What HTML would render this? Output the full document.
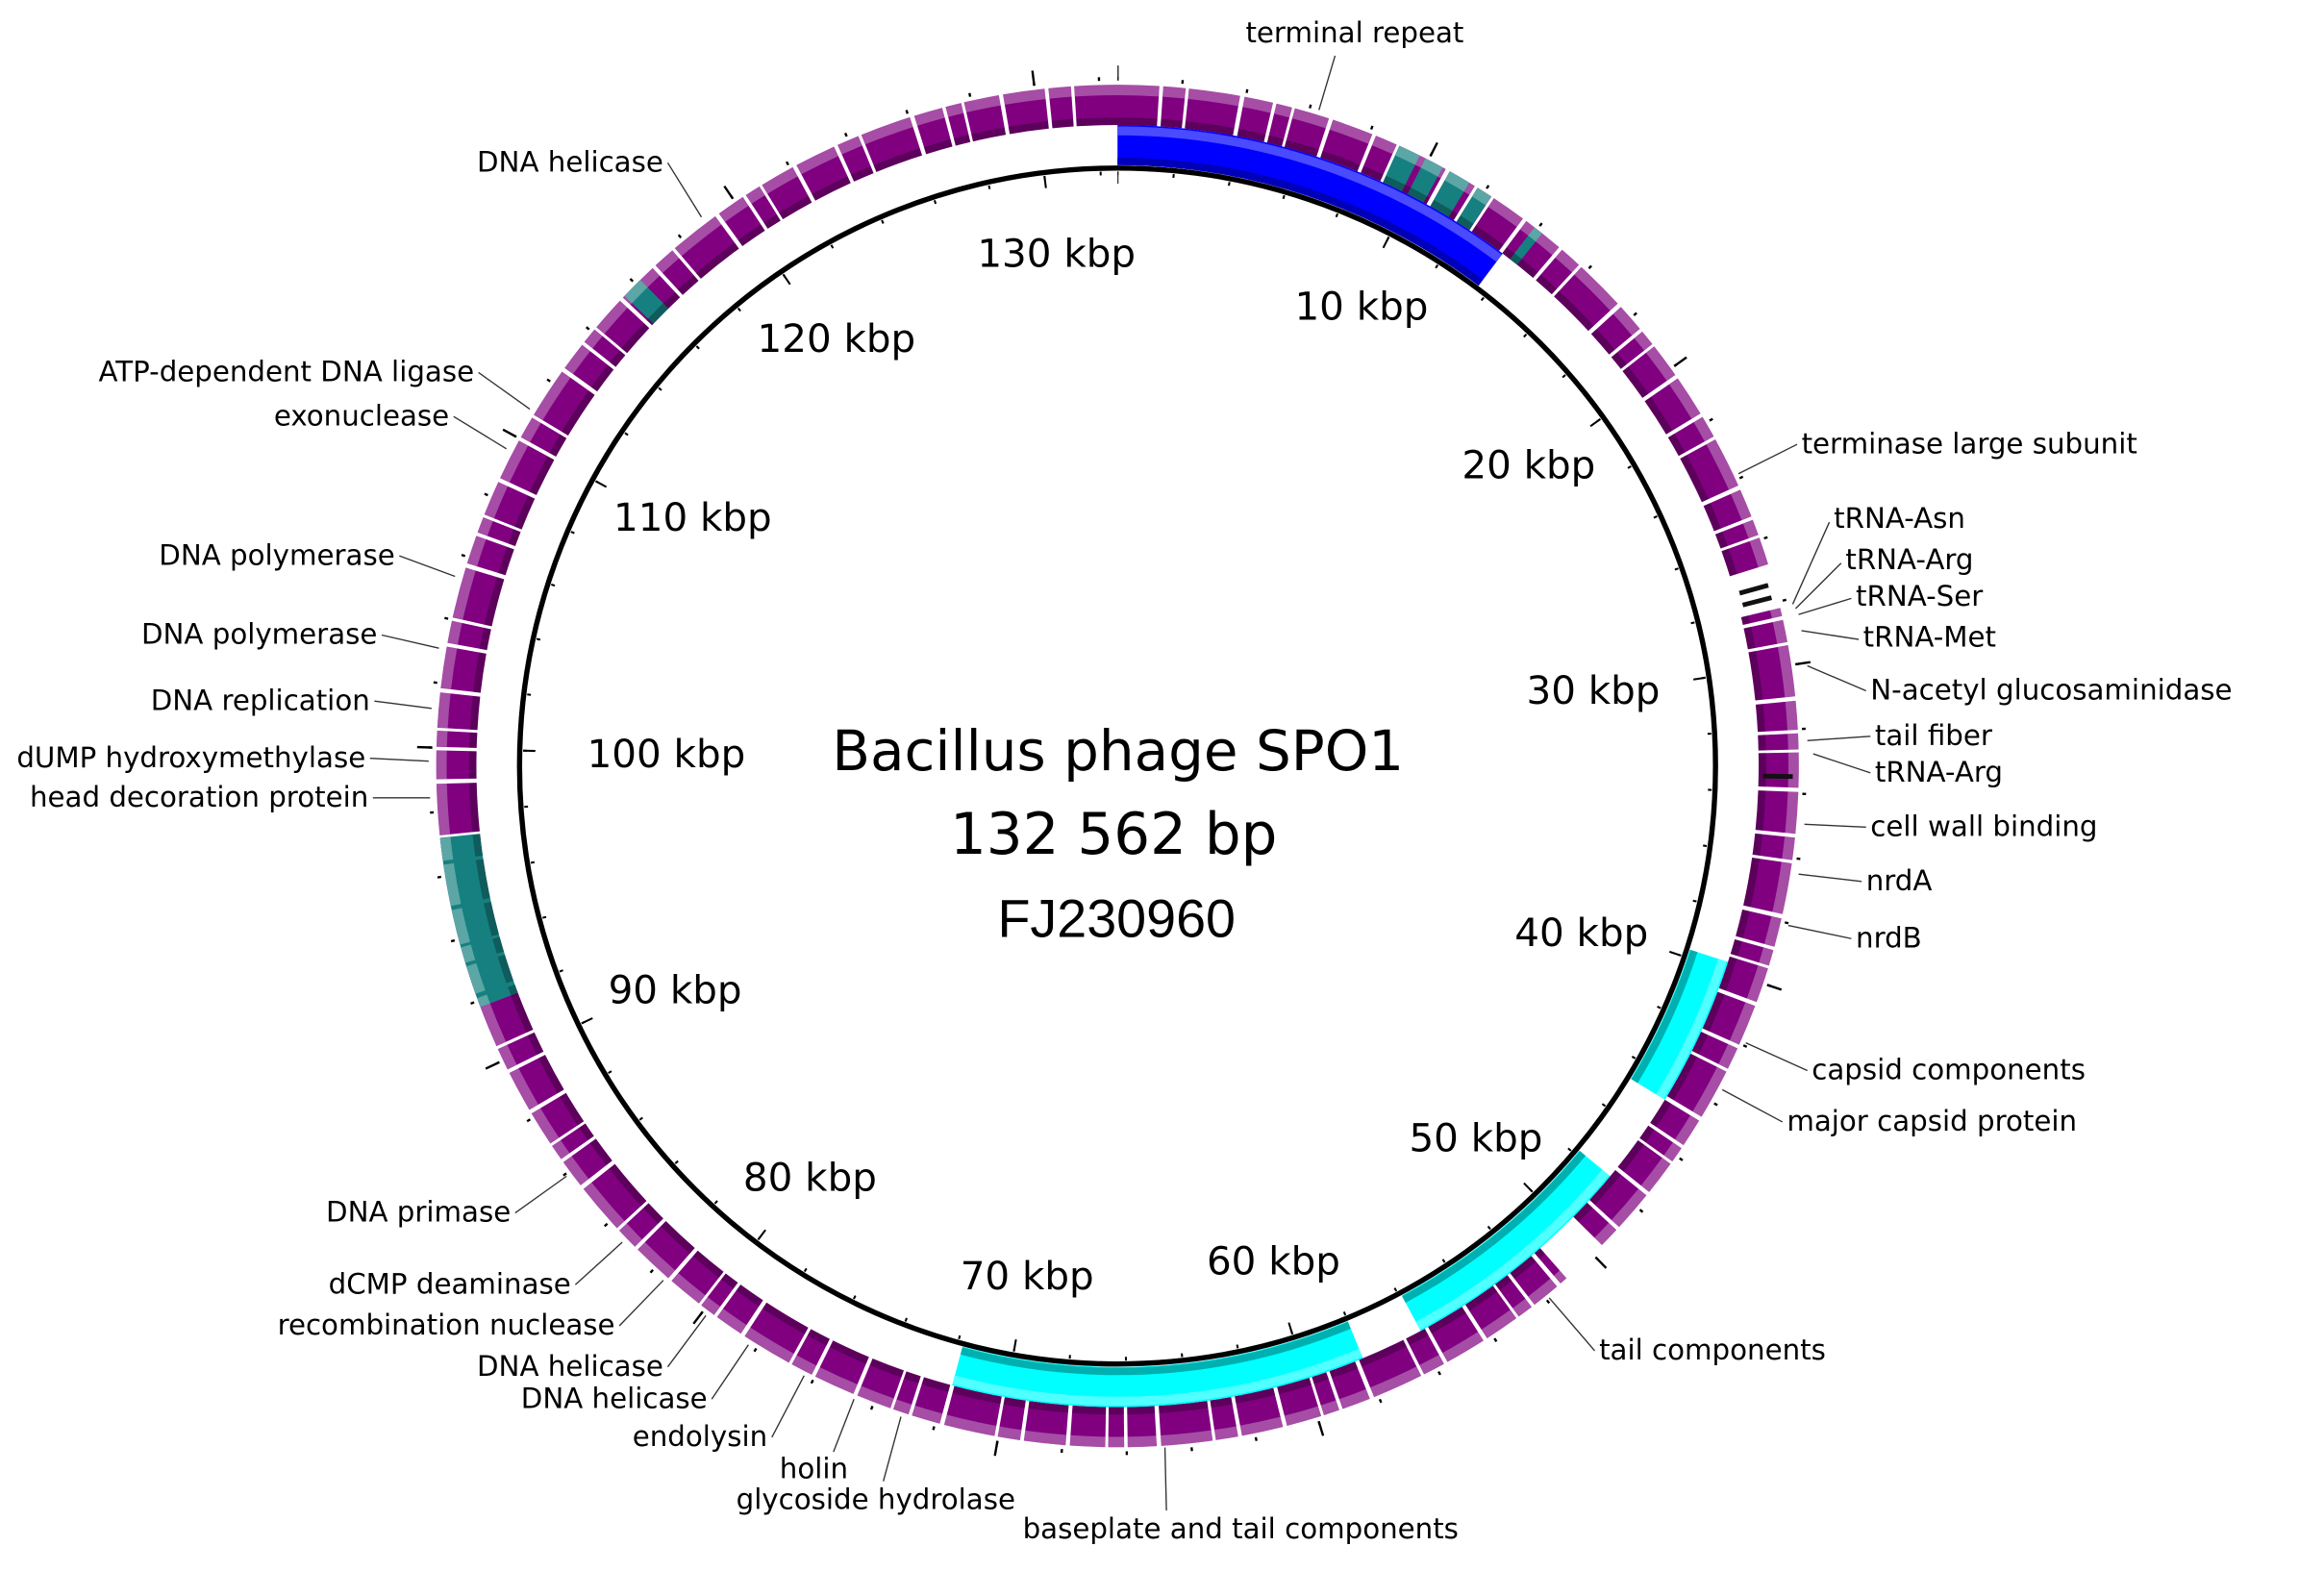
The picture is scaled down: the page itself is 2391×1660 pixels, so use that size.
<!DOCTYPE html>
<html><head><meta charset="utf-8"><style>
html,body{margin:0;padding:0;background:#fff;}
svg{display:block;}
text{font-family:"DejaVu Sans","Liberation Sans",sans-serif;fill:#000;}
</style></head><body>
<svg xmlns="http://www.w3.org/2000/svg" width="2391" height="1660" viewBox="0 0 1545 1073">
<rect width="1545" height="1073" fill="#fff"/>
<g transform="rotate(-90 751 515)" fill="none">
<circle cx="751" cy="515" r="444.5" pathLength="132562" stroke="#800080" stroke-width="27" stroke-dasharray="1300 120 700 100 1600 140 900 110 500 90 1100 130"/>
<circle cx="751" cy="515" r="444.5" pathLength="132562" stroke="#168080" stroke-width="27" stroke-dasharray="0 9000 700 200 600 250 700 300 500 1650 300 77600 5400 18300 700 100000"/>
<circle cx="751" cy="515" r="433.5" pathLength="132562" stroke="rgba(0,0,0,0.28)" stroke-width="5" stroke-dasharray="1300 120 700 100 1600 140 900 110 500 90 1100 130"/>
<circle cx="751" cy="515" r="454.5" pathLength="132562" stroke="rgba(255,255,255,0.3)" stroke-width="7" stroke-dasharray="1300 120 700 100 1600 140 900 110 500 90 1100 130"/>
<circle cx="751" cy="515" r="444.5" pathLength="132562" stroke="#fff" stroke-width="32" stroke-dasharray="0 26800 1400 21400 1500 200000"/>
<circle cx="751" cy="515" r="417.5" pathLength="132562" stroke="#0000ff" stroke-width="27" stroke-dasharray="13600 200000"/>
<circle cx="751" cy="515" r="427" pathLength="132562" stroke="#4a4aff" stroke-width="6" stroke-dasharray="13600 200000"/>
<circle cx="751" cy="515" r="406.5" pathLength="132562" stroke="#0000b8" stroke-width="5" stroke-dasharray="13600 200000"/>
<circle cx="751" cy="515" r="417.5" pathLength="132562" stroke="#00ffff" stroke-width="27" stroke-dasharray="0 39700 5000 3100 8100 2100 13800 200000"/>
<circle cx="751" cy="515" r="427" pathLength="132562" stroke="#50ffff" stroke-width="6" stroke-dasharray="0 39700 5000 3100 8100 2100 13800 200000"/>
<circle cx="751" cy="515" r="407" pathLength="132562" stroke="#00b0b0" stroke-width="5" stroke-dasharray="0 39700 5000 3100 8100 2100 13800 200000"/>
<circle cx="751" cy="515" r="444" pathLength="132562" stroke="#111" stroke-width="20" stroke-dasharray="0 27350 150 250 150 5500 150 200000"/>
<circle cx="751" cy="515" r="398.5" pathLength="132562" stroke="#000" stroke-width="2.5" stroke-dasharray="70 1930" stroke-dashoffset="35"/>
<circle cx="751" cy="515" r="395.5" pathLength="132562" stroke="#000" stroke-width="8" stroke-dasharray="70 9930" stroke-dashoffset="35"/>
<circle cx="751" cy="515" r="462" pathLength="132562" stroke="#000" stroke-width="2.5" stroke-dasharray="70 1930" stroke-dashoffset="35"/>
<circle cx="751" cy="515" r="466" pathLength="132562" stroke="#000" stroke-width="10" stroke-dasharray="70 9930" stroke-dashoffset="35"/>
</g>
<circle cx="751" cy="515" r="402" fill="none" stroke="#000" stroke-width="3.5"/>
<g transform="scale(0.986)">
<g stroke="#333" stroke-width="0.9">
<line x1="910" y1="38" x2="899" y2="75"/>
<line x1="1225" y1="303" x2="1185" y2="323"/>
<line x1="1247" y1="356" x2="1222" y2="412"/>
<line x1="1255" y1="384" x2="1224" y2="415"/>
<line x1="1262" y1="408" x2="1226" y2="419"/>
<line x1="1267" y1="436" x2="1228" y2="430"/>
<line x1="1272" y1="471" x2="1232" y2="454"/>
<line x1="1275" y1="502" x2="1232" y2="505"/>
<line x1="1275" y1="527" x2="1236" y2="514"/>
<line x1="1272" y1="564" x2="1230" y2="562"/>
<line x1="1269" y1="601" x2="1226" y2="596"/>
<line x1="1262" y1="640" x2="1219" y2="631"/>
<line x1="1232" y1="730" x2="1190" y2="711"/>
<line x1="1215" y1="765" x2="1174" y2="743"/>
<line x1="1087" y1="921" x2="1056" y2="885"/>
<line x1="795" y1="1030" x2="794" y2="987"/>
<line x1="455" y1="111" x2="478" y2="148"/>
<line x1="326" y1="254" x2="361" y2="279"/>
<line x1="309" y1="284" x2="345" y2="306"/>
<line x1="272" y1="379" x2="310" y2="393"/>
<line x1="260" y1="433" x2="299" y2="442"/>
<line x1="255" y1="478" x2="294" y2="483"/>
<line x1="252" y1="517" x2="292" y2="519"/>
<line x1="254" y1="544" x2="293" y2="544"/>
<line x1="351" y1="827" x2="386" y2="802"/>
<line x1="392" y1="876" x2="424" y2="847"/>
<line x1="422" y1="904" x2="452" y2="873"/>
<line x1="455" y1="932" x2="481" y2="897"/>
<line x1="485" y1="954" x2="510" y2="917"/>
<line x1="526" y1="980" x2="548" y2="938"/>
<line x1="568" y1="990" x2="582" y2="954"/>
<line x1="602" y1="1010" x2="614" y2="966"/>
</g>
<g font-size="26.5" text-anchor="middle">
<text x="720" y="182">130 kbp</text>
<text x="928" y="218">10 kbp</text>
<text x="570" y="240">120 kbp</text>
<text x="1042" y="326">20 kbp</text>
<text x="472" y="362">110 kbp</text>
<text x="1086" y="480">30 kbp</text>
<text x="454" y="523">100 kbp</text>
<text x="1078" y="645">40 kbp</text>
<text x="460" y="684">90 kbp</text>
<text x="1006" y="785">50 kbp</text>
<text x="552" y="812">80 kbp</text>
<text x="868" y="869">60 kbp</text>
<text x="700" y="879">70 kbp</text>
</g>
<g text-anchor="middle">
<text x="762" y="525" font-size="38">Bacillus phage SPO1</text>
<text x="759" y="582" font-size="39">132 562 bp</text>
<text x="761" y="639" font-size="36.5" style="font-family:'Liberation Sans',sans-serif">FJ230960</text>
</g>
<g font-size="19.2">
<text x="849" y="29">terminal repeat</text>
<text x="1228" y="309">terminase large subunit</text>
<text x="1250" y="360">tRNA-Asn</text>
<text x="1258" y="388">tRNA-Arg</text>
<text x="1265" y="413">tRNA-Ser</text>
<text x="1270" y="441">tRNA-Met</text>
<text x="1275" y="477">N-acetyl glucosaminidase</text>
<text x="1278" y="508">tail fiber</text>
<text x="1278" y="533">tRNA-Arg</text>
<text x="1275" y="570">cell wall binding</text>
<text x="1272" y="607">nrdA</text>
<text x="1265" y="646">nrdB</text>
<text x="1235" y="736">capsid components</text>
<text x="1218" y="771">major capsid protein</text>
<text x="1090" y="927">tail components</text>
<text x="697" y="1049">baseplate and tail components</text>
</g>
<g font-size="19.2" text-anchor="end">
<text x="452" y="117">DNA helicase</text>
<text x="323" y="260">ATP-dependent DNA ligase</text>
<text x="306" y="290">exonuclease</text>
<text x="269" y="385">DNA polymerase</text>
<text x="257" y="439">DNA polymerase</text>
<text x="252" y="484">DNA replication</text>
<text x="249" y="523">dUMP hydroxymethylase</text>
<text x="251" y="550">head decoration protein</text>
<text x="348" y="833">DNA primase</text>
<text x="389" y="882">dCMP deaminase</text>
<text x="419" y="910">recombination nuclease</text>
<text x="452" y="938">DNA helicase</text>
<text x="482" y="960">DNA helicase</text>
<text x="523" y="986">endolysin</text>
<text x="578" y="1008">holin</text>
<text x="692" y="1029">glycoside hydrolase</text>
</g>
</g>
</svg>
</body></html>
